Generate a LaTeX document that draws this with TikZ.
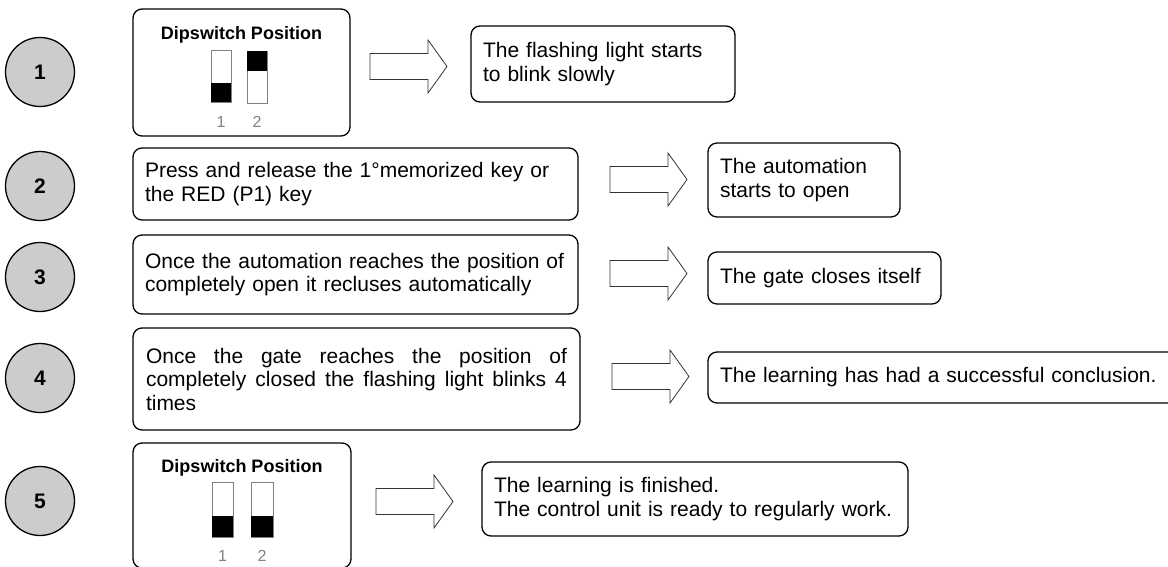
\documentclass[tikz,border=0pt]{standalone}
\usepackage{fontspec}
\setmainfont{Liberation Sans}
\usetikzlibrary{positioning}

% freccia larga vuota: punto di partenza a sinistra, al centro
\newcommand{\fatarrow}[1]{%
  \draw[fatarrow] (#1) ++(0,-13) -- ++(58,0) -- ++(0,-13.5) -- ++(19,26.5)
    -- ++(-19,26.5) -- ++(0,-13.5) -- ++(-58,0) -- cycle;}

\begin{document}
\begin{tikzpicture}[x=1pt, y=-1pt,
    stepbox/.style={draw, line width=1.3pt, rounded corners=9pt, inner xsep=12pt,
      align=left, font=\fontsize{21}{23.5}\selectfont},
    stepnum/.style={circle, draw, line width=1.3pt, fill=gray!40, minimum size=69pt,
      font=\fontsize{21}{24}\selectfont\bfseries},
    fatarrow/.style={draw=black!80, line width=0.8pt, fill=white},
    swframe/.style={draw=gray, line width=0.7pt},
    swlabel/.style={text=gray, font=\fontsize{16}{16}\selectfont},
    swtitle/.style={font=\fontsize{18}{18}\selectfont\bfseries}]

    \useasboundingbox (0,0) rectangle (1168,567);

    % --- NUMERI DEI PASSI ---
    \node[stepnum] (c1) at (40,72) {1};
    \node[stepnum] (c2) at (40,186) {2};
    \node[stepnum] (c3) at (40,277) {3};
    \node[stepnum] (c4) at (40,378) {4};
    \node[stepnum] (c5) at (40,501) {5};

    % --- PASSO 1: dipswitch ---
    \node[draw, line width=1.3pt, rounded corners=9pt, minimum width=217pt, minimum height=127pt] (sw1) at (241.5,72.5) {};
    \node[swtitle, anchor=base] (ttl1) at ([yshift=-31pt]sw1.north) {Dipswitch Position};
    \draw[swframe] (211,50) rectangle (231,102);
    \fill (211,83) rectangle (231,102);
    \draw[swframe] (247,51) rectangle (267,103);
    \fill (247,51) rectangle (267,71);
    \node[swlabel] (s11) at (221,122) {1};
    \node[swlabel] (s12) at (257,122) {2};

    \fatarrow{370,66.5}
    \node[stepbox, minimum height=76pt, text width=240pt] (res1) at (603,64)
      {The flashing light starts\\to blink slowly};

    % --- PASSO 2 ---
    \node[stepbox, minimum height=72pt, text width=421pt] (act2) at (355.5,184)
      {Press and release the 1°memorized key or\\the RED (P1) key};
    \fatarrow{610,179.5}
    \node[stepbox, minimum height=74pt, text width=168pt] (res2) at (804,180)
      {The automation\\starts to open};

    % --- PASSO 3 ---
    \node[stepbox, minimum height=79pt, text width=421pt] (act3) at (355.5,274.5)
      {Once the automation reaches the position of\\completely open it recluses automatically};
    \fatarrow{610,273.5}
    \node[stepbox, minimum height=52pt, text width=209pt] (res3) at (824.5,278)
      {The gate closes itself};

    % --- PASSO 4 (testo giustificato) ---
    \node[stepbox, align=justify, inner xsep=13pt, minimum height=102pt, text width=421pt] (act4) at (356.5,379)
      {\makebox[421pt][s]{Once the gate reaches the position of}\\
       \makebox[421pt][s]{completely closed the flashing light blinks 4}\\
       times};
    \fatarrow{612,376.5}
    \node[stepbox, minimum height=51pt, text width=448pt] (res4) at (944,377.5)
      {The learning has had a successful conclusion.};

    % --- PASSO 5: dipswitch ---
    \node[draw, line width=1.3pt, rounded corners=9pt, minimum width=218pt, minimum height=125pt] (sw5) at (242,505.5) {};
    \node[swtitle, anchor=base] (ttl5) at ([yshift=-30pt]sw5.north) {Dipswitch Position};
    \draw[swframe] (212,482) rectangle (233,537);
    \fill (212,516) rectangle (233,537);
    \draw[swframe] (251,482) rectangle (273,537);
    \fill (251,516) rectangle (273,537);
    \node[swlabel] (s51) at (222.5,556) {1};
    \node[swlabel] (s52) at (262,556) {2};

    \fatarrow{376,501.5}
    \node[stepbox, minimum height=74pt, text width=402pt] (res5) at (695,499)
      {The learning is finished.\\The control unit is ready to regularly work.};

\end{tikzpicture}
\end{document}
